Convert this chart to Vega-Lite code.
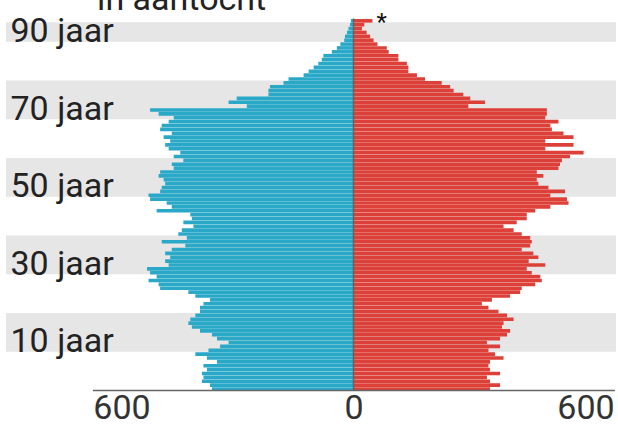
{
  "$schema": "https://vega.github.io/schema/vega-lite/v6.json",
  "width": 610,
  "height": 391,
  "autosize": {"type": "none"},
  "padding": {"left": 6, "top": 0, "right": 2, "bottom": 41},
  "background": "white",
  "config": {"view": {"stroke": null}, "font": "Roboto"},
  "datasets": {
    "pop": [
      {"age": 0, "man": -366, "vrouw": 353}, {"age": 1, "man": -371, "vrouw": 379},
      {"age": 2, "man": -392, "vrouw": 353}, {"age": 3, "man": -388, "vrouw": 345},
      {"age": 4, "man": -392, "vrouw": 379}, {"age": 5, "man": -379, "vrouw": 353},
      {"age": 6, "man": -388, "vrouw": 349}, {"age": 7, "man": -353, "vrouw": 353},
      {"age": 8, "man": -379, "vrouw": 388}, {"age": 9, "man": -409, "vrouw": 366},
      {"age": 10, "man": -375, "vrouw": 349}, {"age": 11, "man": -345, "vrouw": 379},
      {"age": 12, "man": -323, "vrouw": 345}, {"age": 13, "man": -353, "vrouw": 379},
      {"age": 14, "man": -366, "vrouw": 397}, {"age": 15, "man": -397, "vrouw": 405},
      {"age": 16, "man": -418, "vrouw": 384}, {"age": 17, "man": -427, "vrouw": 388},
      {"age": 18, "man": -422, "vrouw": 414}, {"age": 19, "man": -409, "vrouw": 397},
      {"age": 20, "man": -397, "vrouw": 375}, {"age": 21, "man": -397, "vrouw": 349},
      {"age": 22, "man": -388, "vrouw": 332}, {"age": 23, "man": -371, "vrouw": 358},
      {"age": 24, "man": -409, "vrouw": 405}, {"age": 25, "man": -427, "vrouw": 431},
      {"age": 26, "man": -500, "vrouw": 435}, {"age": 27, "man": -504, "vrouw": 470},
      {"age": 28, "man": -530, "vrouw": 487}, {"age": 29, "man": -509, "vrouw": 483},
      {"age": 30, "man": -526, "vrouw": 461}, {"age": 31, "man": -534, "vrouw": 448},
      {"age": 32, "man": -478, "vrouw": 496}, {"age": 33, "man": -487, "vrouw": 453},
      {"age": 34, "man": -474, "vrouw": 478}, {"age": 35, "man": -487, "vrouw": 465},
      {"age": 36, "man": -470, "vrouw": 435}, {"age": 37, "man": -435, "vrouw": 457},
      {"age": 38, "man": -496, "vrouw": 461}, {"age": 39, "man": -431, "vrouw": 457},
      {"age": 40, "man": -453, "vrouw": 435}, {"age": 41, "man": -444, "vrouw": 414},
      {"age": 42, "man": -414, "vrouw": 388}, {"age": 43, "man": -440, "vrouw": 422},
      {"age": 44, "man": -418, "vrouw": 448}, {"age": 45, "man": -422, "vrouw": 448},
      {"age": 46, "man": -509, "vrouw": 470}, {"age": 47, "man": -470, "vrouw": 509},
      {"age": 48, "man": -483, "vrouw": 556}, {"age": 49, "man": -526, "vrouw": 552},
      {"age": 50, "man": -530, "vrouw": 509}, {"age": 51, "man": -500, "vrouw": 547},
      {"age": 52, "man": -496, "vrouw": 504}, {"age": 53, "man": -487, "vrouw": 478},
      {"age": 54, "man": -491, "vrouw": 474}, {"age": 55, "man": -504, "vrouw": 491},
      {"age": 56, "man": -500, "vrouw": 474}, {"age": 57, "man": -465, "vrouw": 530},
      {"age": 58, "man": -470, "vrouw": 534}, {"age": 59, "man": -440, "vrouw": 539},
      {"age": 60, "man": -465, "vrouw": 560}, {"age": 61, "man": -448, "vrouw": 595},
      {"age": 62, "man": -478, "vrouw": 496}, {"age": 63, "man": -487, "vrouw": 569},
      {"age": 64, "man": -474, "vrouw": 496}, {"age": 65, "man": -491, "vrouw": 569},
      {"age": 66, "man": -470, "vrouw": 543}, {"age": 67, "man": -500, "vrouw": 513},
      {"age": 68, "man": -496, "vrouw": 509}, {"age": 69, "man": -478, "vrouw": 530},
      {"age": 70, "man": -465, "vrouw": 496}, {"age": 71, "man": -504, "vrouw": 500},
      {"age": 72, "man": -526, "vrouw": 500}, {"age": 73, "man": -276, "vrouw": 297},
      {"age": 74, "man": -323, "vrouw": 340}, {"age": 75, "man": -302, "vrouw": 302},
      {"age": 76, "man": -220, "vrouw": 284}, {"age": 77, "man": -220, "vrouw": 259},
      {"age": 78, "man": -216, "vrouw": 250}, {"age": 79, "man": -181, "vrouw": 228},
      {"age": 80, "man": -168, "vrouw": 185}, {"age": 81, "man": -129, "vrouw": 164},
      {"age": 82, "man": -116, "vrouw": 142}, {"age": 83, "man": -103, "vrouw": 142},
      {"age": 84, "man": -91, "vrouw": 138}, {"age": 85, "man": -82, "vrouw": 116},
      {"age": 86, "man": -78, "vrouw": 116}, {"age": 87, "man": -56, "vrouw": 91},
      {"age": 88, "man": -43, "vrouw": 86}, {"age": 89, "man": -34, "vrouw": 62},
      {"age": 90, "man": -24, "vrouw": 52}, {"age": 91, "man": -22, "vrouw": 43},
      {"age": 92, "man": -17, "vrouw": 34}, {"age": 93, "man": -13, "vrouw": 22},
      {"age": 94, "man": -9, "vrouw": 28}, {"age": 95, "man": -7, "vrouw": 49, "noot": "*"}
    ],
    "bands": [
      {"from": 10, "to": 20}, {"from": 30, "to": 40}, {"from": 50, "to": 60},
      {"from": 70, "to": 80}, {"from": 90, "to": 95}
    ]
  },
  "layer": [
    {
      "data": {"name": "bands"},
      "mark": {"type": "rect", "color": "#e6e6e6"},
      "encoding": {
        "y": {
          "field": "from", "type": "quantitative",
          "scale": {"domain": [-0.155, 100.75], "nice": false, "zero": false},
          "axis": {
            "values": [10, 30, 50, 70, 90],
            "labelExpr": "datum.value + ' jaar'",
            "labelAlign": "left", "labelBaseline": "alphabetic",
            "labelPadding": -4, "tickSize": 0, "ticks": false,
            "domain": false, "grid": false, "title": null,
            "labelFontSize": 34, "labelColor": "#222222", "labelFont": "Roboto",
            "labelOverlap": false, "labelFlush": false, "zindex": 1
          }
        },
        "y2": {"field": "to"}
      }
    },
    {
      "data": {"name": "pop"},
      "transform": [{"fold": ["man", "vrouw"], "as": ["sexe", "aantal"]}],
      "mark": {"type": "bar", "orient": "horizontal", "binSpacing": 0.25},
      "encoding": {
        "y": {"field": "age", "type": "quantitative", "bin": {"binned": true, "step": 1}},
        "x": {
          "field": "aantal", "type": "quantitative",
          "scale": {"domain": [-898.6, 678.8], "nice": false, "zero": false},
          "axis": {
            "values": [-600, 0, 600],
            "labelExpr": "'' + abs(datum.value)",
            "ticks": false, "tickSize": 0, "domain": false, "grid": false, "title": null,
            "labelFontSize": 34, "labelColor": "#333333", "labelFont": "Roboto",
            "labelPadding": 0, "labelFlush": false, "labelOverlap": false
          }
        },
        "x2": {"datum": 0},
        "color": {
          "field": "sexe", "type": "nominal",
          "scale": {"domain": ["man", "vrouw"], "range": ["#29a8c8", "#dc4038"]},
          "legend": null
        }
      }
    },
    {
      "data": {"values": [{}]},
      "mark": {"type": "rule", "color": "#5d6666", "strokeWidth": 1.5},
      "encoding": {"x": {"datum": 0}, "y": {"datum": 0}, "y2": {"datum": 96}}
    },
    {
      "data": {"values": [{}]},
      "mark": {"type": "rule", "color": "#666666", "strokeWidth": 1.5},
      "encoding": {"x": {"datum": -674}, "x2": {"datum": 676}, "y": {"datum": -0.05}}
    },
    {
      "data": {"name": "pop"},
      "transform": [{"filter": "datum.noot"}],
      "mark": {"type": "text", "align": "left", "baseline": "alphabetic", "fontSize": 24, "dx": 4, "dy": 8, "color": "#111111", "font": "Roboto"},
      "encoding": {
        "x": {"field": "vrouw", "type": "quantitative"},
        "y": {"field": "age", "type": "quantitative"},
        "text": {"field": "noot"}
      }
    },
    {
      "data": {"values": [{"tekst": "in aantocht"}]},
      "mark": {"type": "text", "align": "left", "baseline": "alphabetic", "fontSize": 34, "color": "#222222", "font": "Roboto"},
      "encoding": {
        "x": {"datum": -663},
        "y": {"datum": 98.2},
        "text": {"field": "tekst"}
      }
    }
  ]
}
